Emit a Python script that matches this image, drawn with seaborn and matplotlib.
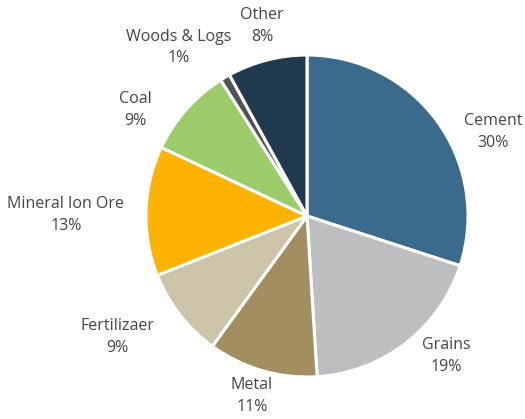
import matplotlib
matplotlib.use("Agg")
import matplotlib.pyplot as plt
import seaborn as sns

# Cargo share by commodity
categories = ["Cement", "Grains", "Metal", "Fertilizaer", "Mineral Ion Ore",
              "Coal", "Woods & Logs", "Other"]
shares = [30, 19, 11, 9, 13, 9, 1, 8]
colors = ["#3a6b8c", "#bdbec0", "#a38e5f", "#ccc3a8", "#feb201",
          "#9ccb69", "#4f5257", "#203a4f"]

# label anchor points, in units of the pie radius
label_pos = [(1.155, 0.522), (0.863, -0.87), (-0.342, -1.118), (-1.18, -0.752),
             (-1.497, 0.006), (-1.068, 0.658), (-0.80, 1.045), (-0.28, 1.18)]

sns.set_theme(style="white")
plt.rcParams["font.family"] = ["Open Sans", "DejaVu Sans"]

W, H = 525, 419
cx, cy, r = 307, 216, 161
fig = plt.figure(figsize=(W / 100, H / 100), dpi=100)
ax = fig.add_axes([0, 0, 1, 1])

ax.pie(shares, colors=colors, startangle=90, counterclock=False, radius=1,
       wedgeprops=dict(edgecolor="white", linewidth=2.2))

for name, val, (lx, ly) in zip(categories, shares, label_pos):
    ax.text(lx, ly, f"{name}\n{val}%", ha="center", va="center",
            fontsize=11.5, color="#454545", linespacing=1.45)

ax.set_xlim(-cx / r, (W - cx) / r)
ax.set_ylim(-(H - cy) / r, cy / r)
ax.set_aspect("equal")
ax.axis("off")

fig.savefig("out.png", dpi=100, facecolor="white")
